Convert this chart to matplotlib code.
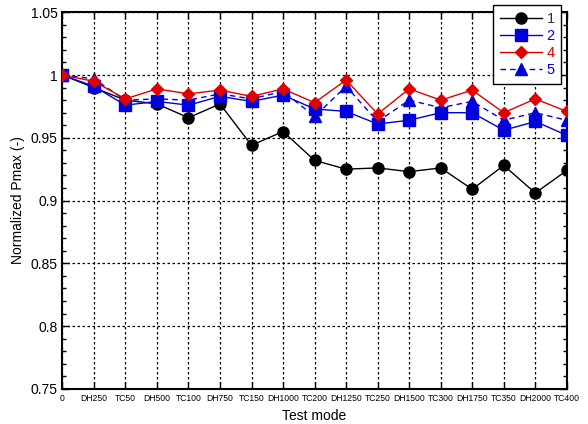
import numpy as np
import matplotlib
matplotlib.use("Agg")
import matplotlib.pyplot as plt
from matplotlib.ticker import MultipleLocator, FormatStrFormatter

# -------------
# Data
# -------------

modes = ["0", "DH250", "TC50", "DH500", "TC100", "DH750", "TC150", "DH1000",
         "TC200", "DH1250", "TC250", "DH1500", "TC300", "DH1750", "TC350",
         "DH2000", "TC400"]

s1 = [1.000, 0.990, 0.980, 0.977, 0.966, 0.977, 0.944, 0.955, 0.932,
      0.925, 0.926, 0.923, 0.926, 0.909, 0.928, 0.906, 0.924]
s2 = [1.000, 0.991, 0.976, 0.979, 0.976, 0.983, 0.979, 0.984, 0.973,
      0.971, 0.961, 0.964, 0.970, 0.970, 0.956, 0.963, 0.952]
s4 = [1.000, 0.995, 0.981, 0.989, 0.985, 0.988, 0.983, 0.989, 0.978,
      0.996, 0.969, 0.989, 0.980, 0.988, 0.970, 0.981, 0.971]
s5 = [1.000, 0.997, 0.980, 0.981, 0.980, 0.985, 0.981, 0.987, 0.967,
      0.991, 0.963, 0.980, 0.974, 0.979, 0.964, 0.970, 0.964]

labels = ["1", "2", "4", "5"]

plt.rcParams["font.family"] = ["Liberation Sans", "DejaVu Sans"]

BLUE = "#0000dd"
RED = "#e00000"

fig = plt.figure(figsize=(5.88, 4.24), dpi=100)
ax = fig.add_axes([0.106, 0.083, 0.858, 0.888])

x = np.arange(len(modes))

ax.plot(x, s1, color="black", lw=1, marker="o", ms=8, label=labels[0], zorder=3)
ax.plot(x, s2, color=BLUE, lw=1, marker="s", ms=8, label=labels[1], zorder=3)
ax.plot(x, s4, color=RED, lw=1, marker="D", ms=6.5, label=labels[2], zorder=4)
ax.plot(x, s5, color=BLUE, lw=1, ls=(0, (4, 3)), marker="^", ms=8,
        label=labels[3], zorder=3)

ax.set_xlim(0, len(modes) - 1)
ax.set_ylim(0.75, 1.05)
ax.set_xticks(x)
ax.set_xticklabels(modes, fontsize=6.2)
ax.yaxis.set_major_locator(MultipleLocator(0.05))
ax.yaxis.set_minor_locator(MultipleLocator(0.01))
ax.yaxis.set_major_formatter(FormatStrFormatter("%g"))
ax.tick_params(axis="y", labelsize=10)
ax.tick_params(which="both", direction="in", top=True, right=True, width=1)
ax.tick_params(which="major", length=5)
ax.tick_params(which="minor", length=3)
ax.tick_params(axis="x", pad=4)

ax.grid(True, which="major", color="black", ls=(0, (2, 2)), lw=0.9)
ax.set_axisbelow(True)
for sp in ax.spines.values():
    sp.set_linewidth(1.5)

ax.set_xlabel("Test mode", fontsize=10)
ax.set_ylabel("Normalized Pmax (-)", fontsize=10)

leg = ax.legend(loc="upper right", bbox_to_anchor=(0.989, 1.019),
                borderaxespad=0, fontsize=10.5,
                frameon=True, fancybox=False, edgecolor="black",
                framealpha=1, handlelength=2.9, handletextpad=0.3,
                borderpad=0.45, labelspacing=0.22, markerfirst=True)
leg.get_frame().set_linewidth(1)
leg.set_zorder(10)
for t, c in zip(leg.get_texts(), ["#333333", BLUE, RED, BLUE]):
    t.set_color(c)

fig.savefig("out.png", dpi=100)
